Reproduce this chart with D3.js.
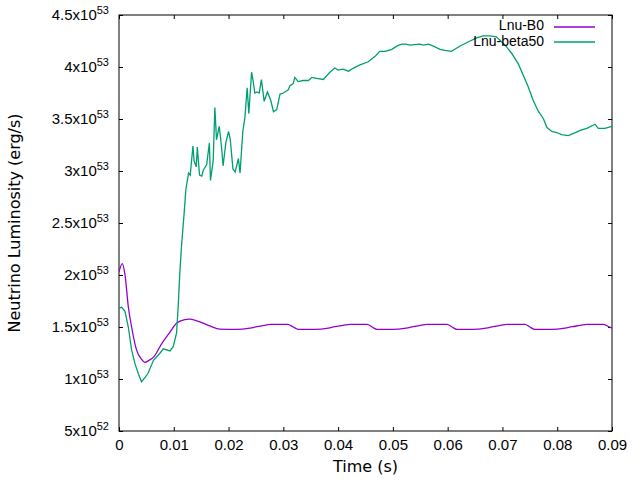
<!DOCTYPE html>
<html><head><meta charset="utf-8">
<script src="https://cdn.jsdelivr.net/npm/d3@7"></script>
<style>body{margin:0;background:#fff}svg{display:block}</style>
</head><body>
<svg id="c" width="640" height="480" font-family="Liberation Sans, Arial, sans-serif"></svg>
<script>
// Values in units of 1e53 erg/s, time in s
const tB0 = [0,0.0006,0.0011,0.0017,0.0023,0.0032,0.0041,0.0047,0.0055,0.0063,0.0078,0.0093,0.0105,0.0120,0.0129,0.0142,0.0166,0.0184,
  0.0215,0.0239,0.0252,0.0266,0.0276,0.0308,0.0318,0.0327,
  0.0358,0.0382,0.0394,0.0409,0.0422,0.0453,0.0462,0.0471,
  0.0500,0.0524,0.0537,0.0551,0.0562,0.0599,0.0608,0.0617,
  0.0646,0.0670,0.0683,0.0697,0.0708,0.0741,0.0750,0.0759,
  0.0790,0.0814,0.0827,0.0842,0.0854,0.0884,0.0893,0.0900];
const lB0 = [2.03,2.11,2.0,1.695,1.5,1.28,1.19,1.16,1.18,1.21,1.34,1.45,1.535,1.57,1.575,1.56,1.51,1.48,
  1.478,1.49,1.503,1.515,1.526,1.526,1.5,1.478,
  1.478,1.49,1.503,1.515,1.526,1.526,1.5,1.478,
  1.478,1.49,1.503,1.515,1.526,1.526,1.5,1.478,
  1.478,1.49,1.503,1.515,1.526,1.526,1.5,1.478,
  1.478,1.49,1.503,1.515,1.526,1.526,1.505,1.49];
const tBeta = [0,0.00049,0.0011,0.0017,0.0023,0.0029,0.0035,0.0041,0.0047,0.0053,0.0063,0.0075,0.0081,0.0093,0.0099,0.0105,0.0108,0.0111,0.0114,0.0119,0.0122,0.0127,0.0130,0.0135,0.0137,0.0141,0.0143,0.0147,0.0151,0.0154,0.0160,0.0165,0.0167,0.0172,0.0175,0.0178,0.0183,0.0187,0.0190,0.0195,0.0200,0.0203,0.0208,0.0212,0.0218,0.0221,0.0226,0.0230,0.0234,0.0237,0.0242,0.0245,0.0248,0.0252,0.0256,0.0260,0.0265,0.0271,0.0277,0.0282,0.0288,0.0294,0.0300,0.0309,0.0312,0.0318,0.0321,0.0327,0.0336,0.0346,0.0352,0.0361,0.0373,0.0385,0.0394,0.0400,0.0409,0.0419,0.0428,0.0440,0.0455,0.0467,0.0476,0.0486,0.0498,0.0507,0.0516,0.0524,0.0531,0.0549,0.0556,0.0565,0.0574,0.0586,0.0595,0.0607,0.0613,0.0622,0.0641,0.0653,0.0665,0.0677,0.0689,0.0705,0.0717,0.0729,0.0738,0.0747,0.0756,0.0765,0.0775,0.0781,0.0790,0.0799,0.0808,0.0820,0.0829,0.0842,0.0854,0.0869,0.0875,0.0887,0.0900];
const lBeta = [1.68,1.69,1.65,1.5,1.28,1.15,1.055,0.974,1.01,1.055,1.18,1.25,1.29,1.27,1.31,1.44,1.69,2.02,2.27,2.6,2.82,2.98,2.96,3.24,3.1,3.04,3.23,2.96,2.95,3.01,3.06,3.27,2.91,3.1,3.61,3.3,3.43,3.24,3.05,3.27,3.38,3.31,3.02,2.99,3.12,2.98,3.38,3.52,3.8,3.55,3.95,3.86,3.75,3.76,3.75,3.88,3.67,3.76,3.68,3.57,3.59,3.74,3.75,3.78,3.82,3.84,3.9,3.86,3.87,3.87,3.9,3.89,3.88,3.95,3.99,3.97,3.98,3.96,3.99,4.02,4.05,4.1,4.15,4.15,4.17,4.2,4.22,4.22,4.21,4.22,4.21,4.22,4.2,4.17,4.16,4.15,4.17,4.2,4.25,4.28,4.3,4.3,4.29,4.21,4.13,4.03,3.92,3.81,3.68,3.58,3.5,3.42,3.38,3.37,3.35,3.34,3.36,3.39,3.41,3.45,3.41,3.41,3.43];
const xTicks = [0,0.01,0.02,0.03,0.04,0.05,0.06,0.07,0.08,0.09];
const yTicks = [0.5,1,1.5,2,2.5,3,3.5,4,4.5];
const seriesNames = ["Lnu-B0","Lnu-beta50"];
const colors = ["#9400d3","#009e73"];

const L=119,R=612,T=15,B=431;
const svg=d3.select("#c");
const x=d3.scaleLinear().domain([0,0.09]).range([L,R]);
const y=d3.scaleLinear().domain([0.5,4.5]).range([B,T]);
const fs=15;
const titleFont="'DejaVu Sans', sans-serif";
const tickFont="'Liberation Sans', Arial, sans-serif";

// axes (ticks inward, mirrored)
const gx=svg.append("g").attr("transform",`translate(0,${B})`).call(d3.axisBottom(x).tickValues(xTicks).tickSizeInner(-4).tickSizeOuter(0).tickPadding(8).tickFormat(d=>d===0?"0":d3.format(".2f")(d)));
const gxt=svg.append("g").attr("transform",`translate(0,${T})`).call(d3.axisTop(x).tickValues(xTicks).tickSizeInner(-4).tickSizeOuter(0).tickFormat(""));
const gy=svg.append("g").attr("transform",`translate(${L},0)`).call(d3.axisLeft(y).tickValues(yTicks).tickSizeInner(-4).tickSizeOuter(0).tickFormat(""));
const gyr=svg.append("g").attr("transform",`translate(${R},0)`).call(d3.axisRight(y).tickValues(yTicks).tickSizeInner(-4).tickSizeOuter(0).tickFormat(""));
[gx,gxt,gy,gyr].forEach(g=>{g.select(".domain").remove();g.selectAll("line").attr("stroke","#000");g.attr("font-family",null).attr("font-size",null);});
gx.selectAll("text").style("font-size",fs+"px").attr("fill","#000").style("font-family",tickFont);

// y tick labels with superscript
yTicks.forEach(v=>{
  const exp = v<1?52:53;
  const mant = v<1?v*10:v;
  const t=svg.append("text").attr("x",L-10).attr("y",y(v)+5).attr("text-anchor","end").style("font-size",fs+"px").style("font-family",tickFont).attr("fill","#000");
  t.append("tspan").text(mant+"x10");
  t.append("tspan").attr("dy",-6).style("font-size","11px").text(exp);
});

// border
svg.append("rect").attr("x",L).attr("y",T).attr("width",R-L).attr("height",B-T).attr("fill","none").attr("stroke","#000").attr("stroke-width",1);

// lines
svg.append("clipPath").attr("id","cp").append("rect").attr("x",L).attr("y",T).attr("width",R-L).attr("height",B-T);
const dB0=tB0.map((t,i)=>[t,lB0[i]]);
const dBeta=tBeta.map((t,i)=>[t,lBeta[i]]);
svg.append("path").datum(dB0).attr("clip-path","url(#cp)").attr("d",d3.line().x(d=>x(d[0])).y(d=>y(d[1])).curve(d3.curveMonotoneX)).attr("fill","none").attr("stroke",colors[0]).attr("stroke-width",1.3);
svg.append("path").datum(dBeta).attr("clip-path","url(#cp)").attr("d",d3.line().x(d=>x(d[0])).y(d=>y(d[1]))).attr("fill","none").attr("stroke",colors[1]).attr("stroke-width",1.3);

// legend
seriesNames.forEach((n,i)=>{
  const yy=27+i*15;
  svg.append("text").attr("x",544).attr("y",30+i*16).attr("text-anchor","end").style("font-size","14px").style("font-family",tickFont).attr("fill","#000").text(n);
  svg.append("line").attr("x1",554).attr("x2",595).attr("y1",yy).attr("y2",yy).attr("stroke",colors[i]).attr("stroke-width",1.3);
});

// axis titles
svg.append("text").attr("x",(L+R)/2).attr("y",472).attr("text-anchor","middle").style("font-size","16px").style("font-family",titleFont).attr("fill","#000").text("Time (s)");
svg.append("text").attr("transform",`translate(20,${(T+B)/2}) rotate(-90)`).attr("text-anchor","middle").style("font-size","16px").style("font-family",titleFont).attr("fill","#000").text("Neutrino Luminosity (erg/s)");
</script>
</body></html>
